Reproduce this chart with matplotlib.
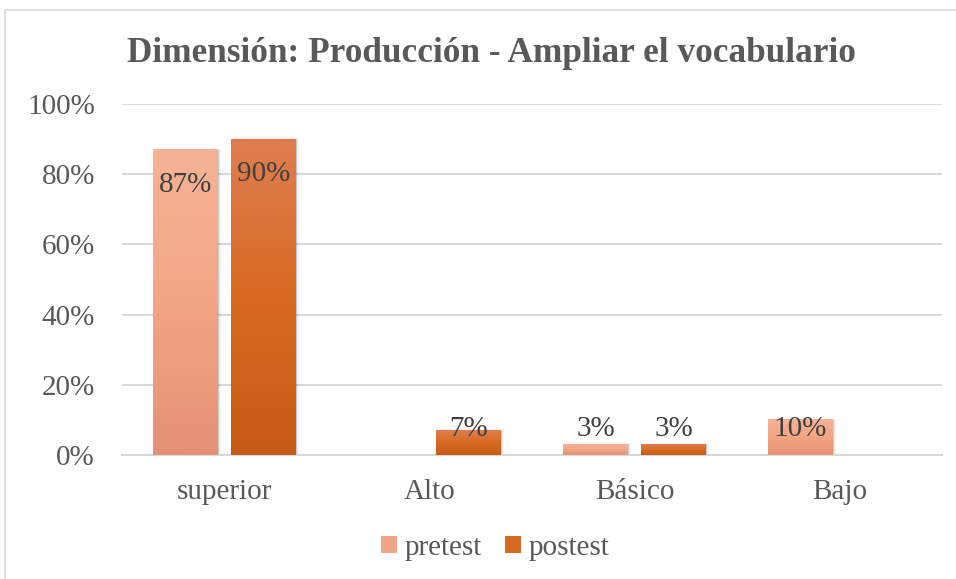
import numpy as np
import matplotlib
matplotlib.use('Agg')
import matplotlib.pyplot as plt
from matplotlib.colors import LinearSegmentedColormap
from matplotlib.patches import Patch, Rectangle
import matplotlib.patheffects as pe

# data
categories = ['superior', 'Alto', 'Básico', 'Bajo']
pretest = [0.87, 0.0, 0.03, 0.10]
postest = [0.90, 0.07, 0.03, 0.0]
series_names = ['pretest', 'postest']

plt.rcParams['font.family'] = ['Liberation Serif', 'DejaVu Serif']
txt = '#595959'
fs = 21

fig = plt.figure(figsize=(9.56, 5.79), dpi=100)
ax = fig.add_axes([122/956, 1 - 455/579, 820/956, 351/579])

# chart border (cropped on right / bottom like the source)
fig.patches.append(Rectangle((5/956, -0.05), 1.1, 1 - 10/579 + 0.05,
                             transform=fig.transFigure, fill=False,
                             edgecolor='#D9D9D9', linewidth=1.2))

grads = [
    LinearSegmentedColormap.from_list('pre', ['#E39273', '#F3A683', '#F5B396']),
    LinearSegmentedColormap.from_list('post', ['#C65B17', '#D86A22', '#DE7E50']),
]
mid_colors = ['#F3A683', '#D86A22']

x = np.arange(len(categories))
width = 0.313
offsets = [-0.19, 0.19]

ax.set_xlim(-0.5, len(categories) - 0.5)
ax.set_ylim(0, 1)

grad = np.linspace(0, 1, 256).reshape(-1, 1)
for values, off, cmap in zip([pretest, postest], offsets, grads):
    bars = ax.bar(x + off, values, width, color='none', edgecolor='none', zorder=3)
    for b, v in zip(bars, values):
        if v <= 0:
            continue
        x0 = b.get_x()
        # soft shadow
        ax.add_patch(Rectangle((x0 + 0.006, 0), b.get_width(), v,
                               facecolor='#000000', alpha=0.12, edgecolor='none', zorder=2.5,
                               path_effects=[pe.withStroke(linewidth=2, foreground='#000000', alpha=0.05)]))
        ax.imshow(grad, extent=(x0, x0 + b.get_width(), 0, v), origin='lower',
                  cmap=cmap, aspect='auto', zorder=3)
        # data labels
        if v >= 0.5:
            ax.annotate(f'{v*100:.0f}%', (x0 + b.get_width()/2, v), xytext=(0, -16),
                        textcoords='offset points', ha='center', va='top',
                        fontsize=fs, color='#404040', zorder=5)
        else:
            ax.text(x0 + b.get_width()/2, 0.075, f'{v*100:.0f}%', ha='center', va='center',
                    fontsize=fs, color='#404040', zorder=5)

ax.set_xlim(-0.5, len(categories) - 0.5)
ax.set_ylim(0, 1)
ax.set_yticks(np.arange(0, 1.01, 0.2))
ax.set_yticklabels([f'{t*100:.0f}%' for t in np.arange(0, 1.01, 0.2)])
ax.set_xticks(x)
ax.set_xticklabels(categories)
ax.tick_params(axis='both', length=0, labelsize=fs, labelcolor=txt)
ax.tick_params(axis='y', pad=19.5)
ax.tick_params(axis='x', pad=17)
ax.grid(axis='y', color='#D9D9D9', linewidth=1.5, zorder=0)
ax.set_axisbelow(True)
for s in ['top', 'right', 'left']:
    ax.spines[s].set_visible(False)
ax.spines['bottom'].set_color('#D9D9D9')
ax.spines['bottom'].set_linewidth(1.5)

fig.text(0.514, 1 - 53/579, 'Dimensión: Producción - Ampliar el vocabulario',
         ha='center', va='center', fontsize=25.4, fontweight='bold', color=txt)

handles = [Patch(facecolor=c, edgecolor='none') for c in mid_colors]
fig.legend(handles, series_names, loc='center', bbox_to_anchor=(495/956, 1 - 548/579),
           ncol=2, frameon=False, fontsize=fs, labelcolor=txt,
           handlelength=0.55, handleheight=0.55, handletextpad=0.25, columnspacing=0.8)

plt.savefig('out.png', dpi=100)
